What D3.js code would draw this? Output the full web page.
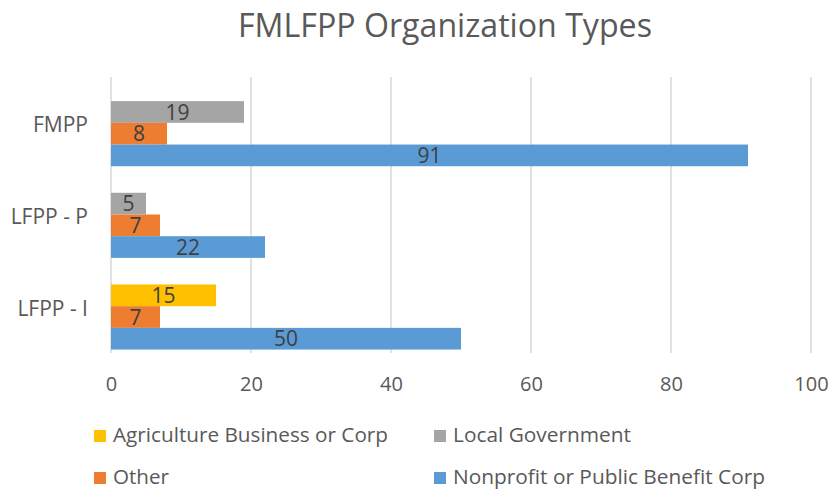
<!DOCTYPE html>
<html>

<head>
  <title>FMLFPP Organization Types</title>
  <style>
    body { margin: 0; background: #fff; }
    text { font-family: "Open Sans", sans-serif; }
  </style>
</head>

<body>
  <svg id="svg"></svg>

  <script src="https://d3js.org/d3.v7.min.js"></script>
  <script>
    // data
    let categories = ["FMPP", "LFPP - P", "LFPP - I"];
    let agriculture = [0, 0, 15];
    let localGov = [19, 5, 0];
    let other = [8, 7, 7];
    let nonprofit = [91, 22, 50];
    let xTicks = [0, 20, 40, 60, 80, 100];

    let width = 833, height = 491;
    let margin = { top: 77, right: 22, bottom: 139, left: 111 };
    let plotW = 700, plotH = 275;

    // slot = position inside a category group, counted from the top (slot 0 stays empty)
    let series = [
      { name: "Agriculture Business or Corp", values: agriculture, color: "#FFC000", slot: 1 },
      { name: "Local Government", values: localGov, color: "#A5A5A5", slot: 1 },
      { name: "Other", values: other, color: "#ED7D31", slot: 2 },
      { name: "Nonprofit or Public Benefit Corp", values: nonprofit, color: "#5B9BD5", slot: 3 }
    ];
    let legendOrder = [0, 1, 2, 3];

    let svg = d3.select("#svg").attr("width", width).attr("height", height);

    let xScale = d3.scaleLinear().domain([0, 100]).range([0, plotW]);
    let y0 = d3.scaleBand().domain(categories).range([0, plotH]).paddingInner(0.053).paddingOuter(0.0265);
    let y1 = d3.scaleBand().domain([0, 1, 2, 3]).range([0, y0.bandwidth()]);

    // title
    svg.append("text")
      .attr("x", 445).attr("y", 37)
      .attr("text-anchor", "middle")
      .attr("font-size", 33)
      .attr("fill", "#595959")
      .attr("textLength", 414).attr("lengthAdjust", "spacingAndGlyphs")
      .text("FMLFPP Organization Types");

    let plot = svg.append("g").attr("transform", `translate(${margin.left}, ${margin.top})`);

    // gridlines
    plot.append("g").selectAll("line")
      .data(xTicks)
      .join("line")
      .attr("x1", d => xScale(d)).attr("x2", d => xScale(d))
      .attr("y1", 0).attr("y2", plotH + 1)
      .attr("stroke", "#D9D9D9").attr("stroke-width", 1.5);

    // x tick labels
    let xAxis = plot.append("g")
      .attr("transform", `translate(0, ${plotH})`)
      .call(d3.axisBottom(xScale).tickValues(xTicks).tickSize(0).tickPadding(0));
    xAxis.select(".domain").remove();
    xAxis.selectAll("text")
      .attr("y", 39).attr("dy", null)
      .attr("font-size", 20)
      .attr("font-family", "Open Sans, sans-serif")
      .attr("fill", "#595959");

    // category labels
    plot.append("g").selectAll("text")
      .data(categories)
      .join("text")
      .attr("x", -23)
      .attr("y", d => y0(d) + y0.bandwidth() / 2 + 2)
      .attr("dy", "0.35em")
      .attr("text-anchor", "end")
      .attr("font-size", 21)
      .attr("fill", "#595959")
      .text(d => d);

    // bars
    let bars = [];
    series.forEach(s => {
      s.values.forEach((v, i) => {
        if (v > 0) bars.push({ cat: categories[i], value: v, color: s.color, slot: s.slot });
      });
    });

    plot.append("g").selectAll("rect")
      .data(bars)
      .join("rect")
      .attr("x", xScale(0))
      .attr("y", d => y0(d.cat) + y1(d.slot))
      .attr("width", d => xScale(d.value) - xScale(0))
      .attr("height", y1.bandwidth())
      .attr("fill", d => d.color);

    plot.append("g").selectAll("text")
      .data(bars)
      .join("text")
      .attr("x", d => xScale(d.value / 2))
      .attr("y", d => y0(d.cat) + y1(d.slot) + y1.bandwidth() / 2)
      .attr("dy", "0.36em")
      .attr("text-anchor", "middle")
      .attr("font-size", 21)
      .attr("fill", "#404040")
      .text(d => d.value);

    // legend
    let legendPos = [[94, 442], [434, 442], [94, 484], [434, 484]];
    let legendWidths = [275, 178, 56, 312];
    let legend = svg.append("g").selectAll("g")
      .data(legendOrder)
      .join("g")
      .attr("transform", (d, i) => `translate(${legendPos[i][0]}, ${legendPos[i][1]})`);
    legend.append("rect")
      .attr("x", 0).attr("y", -12)
      .attr("width", 12).attr("height", 12)
      .attr("fill", d => series[d].color);
    legend.append("text")
      .attr("x", 19).attr("y", 0)
      .attr("font-size", 20)
      .attr("fill", "#595959")
      .attr("textLength", (d, i) => legendWidths[i]).attr("lengthAdjust", "spacingAndGlyphs")
      .text(d => series[d].name);
  </script>
</body>

</html>
